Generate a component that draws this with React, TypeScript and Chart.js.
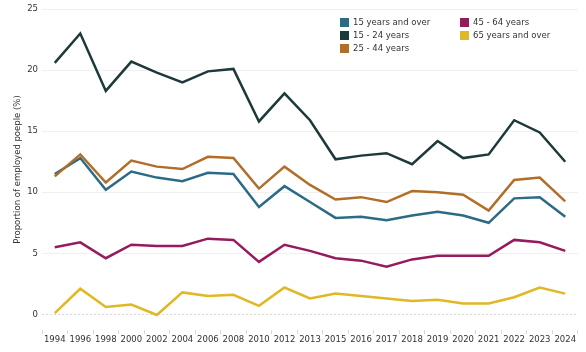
import React, { useEffect, useRef } from "react";
import { Chart, registerables } from "chart.js";

Chart.register(...registerables);

const years = ["1994", "1996", "1998", "2000", "2002", "2004", "2006", "2008", "2010", "2012", "2013", "2015", "2016", "2017", "2018", "2019", "2020", "2021", "2022", "2023", "2024"];

const age15Over = [11.5, 12.8, 10.2, 11.7, 11.2, 10.9, 11.6, 11.5, 8.8, 10.5, 9.2, 7.9, 8.0, 7.7, 8.1, 8.4, 8.1, 7.5, 9.5, 9.6, 8.0];
const age15to24 = [20.6, 23.0, 18.3, 20.7, 19.8, 19.0, 19.9, 20.1, 15.8, 18.1, 15.9, 12.7, 13.0, 13.2, 12.3, 14.2, 12.8, 13.1, 15.9, 14.9, 12.5];
const age25to44 = [11.3, 13.1, 10.8, 12.6, 12.1, 11.9, 12.9, 12.8, 10.3, 12.1, 10.6, 9.4, 9.6, 9.2, 10.1, 10.0, 9.8, 8.5, 11.0, 11.2, 9.25];
const age45to64 = [5.5, 5.9, 4.6, 5.7, 5.6, 5.6, 6.2, 6.1, 4.3, 5.7, 5.2, 4.6, 4.4, 3.9, 4.5, 4.8, 4.8, 4.8, 6.1, 5.9, 5.2];
const age65Over = [0.1, 2.1, 0.6, 0.8, -0.05, 1.8, 1.5, 1.6, 0.7, 2.2, 1.3, 1.7, 1.5, 1.3, 1.1, 1.2, 0.9, 0.9, 1.4, 2.2, 1.7];

const yTicks = [0, 5, 10, 15, 20, 25];

const seriesNames = ["15 years and over", "15 - 24 years", "25 - 44 years", "45 - 64 years", "65 years and over"];
const seriesColors = ["#2c6b86", "#1d3a3b", "#b06e28", "#951b5e", "#e0b824"];
const seriesData = [age15Over, age15to24, age25to44, age45to64, age65Over];

const FONT = "'DejaVu Sans', sans-serif";

export default function App() {
  const ref = useRef<HTMLCanvasElement>(null);

  useEffect(() => {
    document.body.style.margin = "0";
    const zeroLine = {
      id: "zeroLine",
      beforeDatasetsDraw(chart: any) {
        const ctx = chart.ctx;
        const y = chart.scales.y.getPixelForValue(0);
        const { left, right } = chart.chartArea;
        ctx.save();
        ctx.strokeStyle = "#d8d8d8";
        ctx.lineWidth = 1;
        ctx.setLineDash([2, 2]);
        ctx.beginPath();
        ctx.moveTo(left, Math.round(y) + 0.5);
        ctx.lineTo(right, Math.round(y) + 0.5);
        ctx.stroke();
        ctx.restore();
      },
    };

    const chart = new Chart(ref.current as HTMLCanvasElement, {
      type: "line",
      data: {
        labels: years,
        datasets: seriesData.map((d, i) => ({
          label: seriesNames[i],
          data: d,
          borderColor: seriesColors[i],
          backgroundColor: seriesColors[i],
          borderWidth: 2.5,
          pointRadius: 0,
          tension: 0,
          order: 4 - i,
        })),
      },
      options: {
        responsive: false,
        animation: false,
        layout: { padding: { top: 8, right: 8, left: 0, bottom: 0 } },
        plugins: {
          legend: { display: false },
          tooltip: { enabled: false },
        },
        scales: {
          x: {
            offset: true,
            grid: {
              drawOnChartArea: false,
              drawTicks: true,
              offset: true,
              tickLength: 4,
              tickColor: "#d8d8d8",
            },
            border: { display: false },
            ticks: {
              autoSkip: false,
              maxRotation: 0,
              padding: 1,
              color: "#333",
              font: { family: FONT, size: 8.5 },
            },
            afterFit(scale: any) {
              scale.height = 22;
            },
          },
          y: {
            min: -1.28,
            max: 25,
            afterBuildTicks(scale: any) {
              scale.ticks = yTicks.map((v) => ({ value: v }));
            },
            grid: {
              drawTicks: false,
              color: (c: any) => (c.tick && c.tick.value === 0 ? "rgba(0,0,0,0)" : "#f0f0f0"),
            },
            border: { display: false },
            ticks: {
              padding: 4,
              color: "#333",
              font: { family: FONT, size: 8.5 },
            },
            title: {
              display: true,
              text: "Proportion of employed poeple (%)",
              color: "#333",
              font: { family: FONT, size: 8.5 },
              padding: { top: 13, bottom: 0 },
            },
            afterFit(scale: any) {
              scale.width = 42;
            },
          },
        },
      },
      plugins: [zeroLine],
    });
    return () => chart.destroy();
  }, []);

  const legendItems = [
    { i: 0, x: 340, y: 22 },
    { i: 1, x: 340, y: 35 },
    { i: 2, x: 340, y: 48 },
    { i: 3, x: 460, y: 22 },
    { i: 4, x: 460, y: 35 },
  ];

  return (
    <div style={{ position: "relative", width: 586, height: 352, background: "#fff" }}>
      <canvas ref={ref} width={586} height={352} style={{ display: "block" }} />
      {legendItems.map((it) => (
        <div
          key={it.i}
          style={{
            position: "absolute",
            left: it.x,
            top: it.y - 6,
            height: 12,
            display: "flex",
            alignItems: "center",
            fontFamily: FONT,
            fontSize: 8.5,
            color: "#333",
            whiteSpace: "nowrap",
          }}
        >
          <span
            style={{
              display: "inline-block",
              width: 9,
              height: 9,
              background: seriesColors[it.i],
              marginRight: 4,
            }}
          />
          <span>{seriesNames[it.i]}</span>
        </div>
      ))}
    </div>
  );
}
